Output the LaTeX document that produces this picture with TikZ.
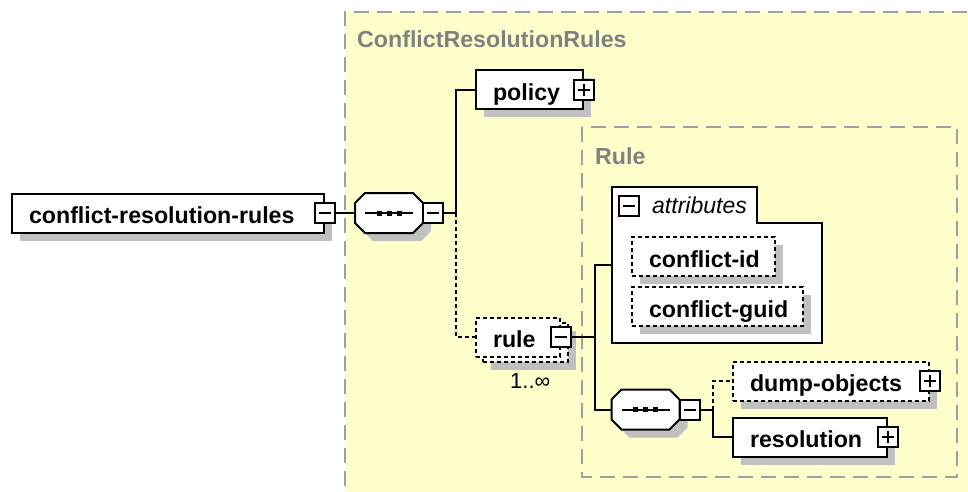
\documentclass[tikz,border=0pt]{standalone}
\usepackage{fontspec}
\setmainfont{Liberation Sans}
\usetikzlibrary{shadows,calc}
\definecolor{yel}{RGB}{255,255,204}
\definecolor{rgray}{RGB}{160,160,160}
\definecolor{tgray}{RGB}{128,128,128}
\definecolor{sgray}{RGB}{192,192,192}
\newcommand\octshape[3]{%
  \path[#3] ({#1-34},{#2-10}) -- ({#1-24},{#2-20}) -- ({#1+24},{#2-20}) -- ({#1+34},{#2-10})
    -- ({#1+34},{#2+10}) -- ({#1+24},{#2+20}) -- ({#1-24},{#2+20}) -- ({#1-34},{#2+10}) -- cycle;}
\begin{document}
\begin{tikzpicture}[x=1pt,y=-1pt,
  font=\fontsize{23.2}{27}\selectfont,
  regionborder/.style={draw=rgray, line width=2pt, dash pattern=on 15pt off 8pt},
  title/.style={anchor=base west, inner sep=0pt, text=tgray, font=\fontsize{23.2}{27}\selectfont\bfseries},
  shd/.style={drop shadow={shadow xshift=8pt, shadow yshift=-8pt, opacity=1, fill=sgray}},
  elembox/.style={draw=black, line width=2pt, fill=white, anchor=west, minimum height=39pt, inner xsep=17pt, inner ysep=0pt, text height=21pt, text depth=0pt, font=\fontsize{23.2}{27}\selectfont\bfseries},
  opt/.style={dash pattern=on 4pt off 3pt},
  pm/.style={draw=black, line width=2pt, fill=white, minimum size=20pt, inner sep=0pt},
  minusbox/.style={pm, path picture={\draw[line width=2pt] ([xshift=4pt]path picture bounding box.west) -- ([xshift=-4pt]path picture bounding box.east);}},
  plusbox/.style={pm, path picture={\draw[line width=2pt] ([xshift=4pt]path picture bounding box.west) -- ([xshift=-4pt]path picture bounding box.east) ([yshift=4pt]path picture bounding box.south) -- ([yshift=-4pt]path picture bounding box.north);}},
  seqanchor/.style={minimum width=68pt, minimum height=40pt, inner sep=0pt, outer sep=1pt},
  conn/.style={draw=black, line width=2pt},
  optconn/.style={conn, dash pattern=on 4pt off 3pt},
]
\useasboundingbox (0,0) rectangle (968,491);
% regions
\fill[yel] (345,12) rectangle (990,510);
\draw[regionborder] (990,12) -- (345,12) -- (345,510);
\node[title] (crrt) at (357,47) {ConflictResolutionRules};
\fill[yel] (582,127) rectangle (957,477);
\draw[regionborder] (582,127) rectangle (957,477);
\node[title] (rulet) at (595,164) {Rule};

% root
\node[elembox, shd] (root) at (11,213) {\makebox[278pt][l]{conflict-resolution-rules}};
\node[minusbox] (rootm) at (root.east) {};

% sequence 1
\octshape{397}{221}{fill=sgray}
\octshape{389}{213}{draw=black, fill=white, line width=2pt}
\node[seqanchor] (s1) at (389,213) {};
\node[minusbox] (s1m) at (433,213) {};
\draw[line width=2pt] (365,213) -- (413,213);
\foreach \dx in {-10,0,10} \fill ({389+\dx-2.5},210.5) rectangle ++(5,5);

% policy
\node[elembox, shd] (policy) at (475,89.5) {\makebox[73pt][l]{policy}};
\node[plusbox] (policyp) at (policy.east) {};

% rule
\node[elembox, opt, shd, minimum width=85pt] (ruleb) at (482,342) {};
\node[elembox, opt] (rule) at (475,337) {\makebox[50pt][l]{rule}};
\node[minusbox] (rulem) at (rule.east) {};
\node[anchor=base west, inner sep=0pt, font=\fontsize{22}{26}\selectfont] (mult) at (510,388) {1..∞};

% attributes
\node[inner sep=0pt, minimum width=210pt, minimum height=156pt, anchor=north west] (attr) at (612,187) {};
\draw[conn, fill=white] (attr.north west) -- ++(145,0) -- ++(0,36) -| (attr.south east) -- (attr.south west) -- cycle;
\node[minusbox] (attrm) at (629,205.5) {};
\node[anchor=base west, inner sep=0pt, font=\fontsize{23}{27}\selectfont\itshape] (attrt) at (652,213) {attributes};
\node[elembox, opt, shd] (cid) at (631,256.5) {\makebox[109pt][l]{conflict-id}};
\node[elembox, opt, shd] (cguid) at (631,306.5) {\makebox[137pt][l]{conflict-guid}};

% sequence 2
\octshape{653.5}{417.5}{fill=sgray}
\octshape{645.5}{409.5}{draw=black, fill=white, line width=2pt}
\node[seqanchor] (s2) at (645.5,409.5) {};
\node[minusbox] (s2m) at (689.5,409.5) {};
\draw[line width=2pt] (621.5,409.5) -- (669.5,409.5);
\foreach \dx in {-10,0,10} \fill ({645.5+\dx-2.5},407) rectangle ++(5,5);

\node[elembox, opt, shd] (dump) at (732,381) {\makebox[162pt][l]{dump-objects}};
\node[plusbox] (dumpp) at (dump.east) {};
\node[elembox, shd] (res) at (732,437) {\makebox[120pt][l]{resolution}};
\node[plusbox] (resp) at (res.east) {};

% connectors
\draw[conn] (rootm.east) -- (s1.west);
\coordinate (j1) at ($(s1m.east)+(12,0)$);
\draw[conn] (s1m.east) -- (j1) |- (policy.west);
\draw[optconn] (j1) |- (rule.west);
\coordinate (j2) at ($(rulem.east)+(23,0)$);
\draw[conn] (rulem.east) -- (j2);
\draw[conn] (j2) |- (attr.west);
\draw[conn] (j2) |- (s2.west);
\coordinate (j3) at ($(s2m.east)+(12,0)$);
\draw[conn] (s2m.east) -- (j3) |- (res.west);
\draw[optconn] (j3) |- (dump.west);
\end{tikzpicture}
\end{document}
